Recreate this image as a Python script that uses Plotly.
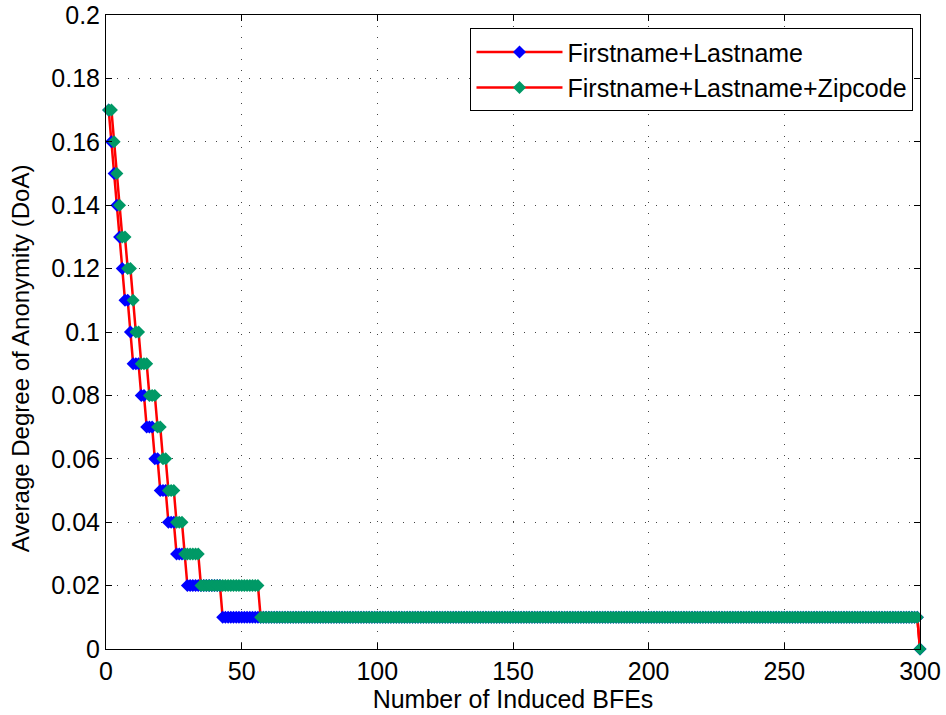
import plotly.graph_objects as go

# Run-length encoded data: (value, number of consecutive integer x positions starting at x=1)
fl_levels = [0.17, 0.16, 0.15, 0.14, 0.13, 0.12, 0.11, 0.10, 0.09, 0.08, 0.07, 0.06, 0.05, 0.04, 0.03, 0.02, 0.01, 0.0]
fl_counts = [1, 1, 1, 1, 1, 1, 2, 1, 3, 2, 3, 2, 3, 3, 4, 13, 257, 1]

flz_levels = [0.17, 0.16, 0.15, 0.14, 0.13, 0.12, 0.11, 0.10, 0.09, 0.08, 0.07, 0.06, 0.05, 0.04, 0.03, 0.02, 0.01, 0.0]
flz_counts = [2, 1, 1, 1, 2, 2, 1, 2, 3, 3, 2, 2, 3, 3, 6, 22, 243, 1]

x_ticks = [0, 50, 100, 150, 200, 250, 300]
y_ticks = [0, 0.02, 0.04, 0.06, 0.08, 0.1, 0.12, 0.14, 0.16, 0.18, 0.2]
y_ticktext = ["0", "0.02", "0.04", "0.06", "0.08", "0.1", "0.12", "0.14", "0.16", "0.18", "0.2"]


def expand(levels, counts):
    ys = []
    for v, c in zip(levels, counts):
        ys.extend([v] * c)
    xs = list(range(1, len(ys) + 1))
    return xs, ys


x1, y1 = expand(fl_levels, fl_counts)
x2, y2 = expand(flz_levels, flz_counts)

font = "Liberation Sans, Arial, sans-serif"
FS = 25

fig = go.Figure()
fig.add_trace(go.Scatter(
    x=x1, y=y1, mode="lines+markers", name="Firstname+Lastname",
    line=dict(color="#FF0000", width=2.5),
    marker=dict(symbol="diamond", size=10, color="#0000FF", line=dict(width=0)),
    cliponaxis=False,
))
fig.add_trace(go.Scatter(
    x=x2, y=y2, mode="lines+markers", name="Firstname+Lastname+Zipcode",
    line=dict(color="#FF0000", width=2.5),
    marker=dict(symbol="diamond", size=10, color="rgb(0,153,102)", line=dict(width=0)),
    cliponaxis=False,
))

axis_common = dict(
    showline=True, linecolor="black", linewidth=1, mirror="ticks",
    ticks="inside", ticklen=6, tickcolor="black",
    showgrid=True, gridcolor="#444444", gridwidth=1, griddash="1px,10px",
    zeroline=False, automargin=False,
    tickfont=dict(family=font, size=FS, color="black"),
)

fig.update_xaxes(
    range=[0, 300], tickvals=x_ticks, ticktext=[str(v) for v in x_ticks],
    title=dict(text="Number of Induced BFEs", font=dict(family=font, size=FS, color="black"), standoff=2),
    **axis_common,
)
fig.update_yaxes(
    range=[0, 0.2], tickvals=y_ticks, ticktext=y_ticktext,
    **axis_common,
)

fig.add_annotation(
    text="Average Degree of Anonymity (DoA)", textangle=-90,
    xref="paper", yref="paper", x=-0.104, y=0.459,
    xanchor="center", yanchor="middle", showarrow=False,
    font=dict(family=font, size=24, color="black"),
)

fig.update_layout(
    width=946, height=715,
    margin=dict(l=106, r=26, t=15, b=66),
    paper_bgcolor="white", plot_bgcolor="white",
    font=dict(family=font, size=FS, color="black"),
    showlegend=True,
    legend=dict(
        x=0.992, y=0.979, xanchor="right", yanchor="top",
        bgcolor="white", bordercolor="black", borderwidth=1,
        font=dict(family=font, size=FS, color="black"),
        tracegroupgap=0, itemwidth=86,
    ),
)

fig.write_html("out.html")
